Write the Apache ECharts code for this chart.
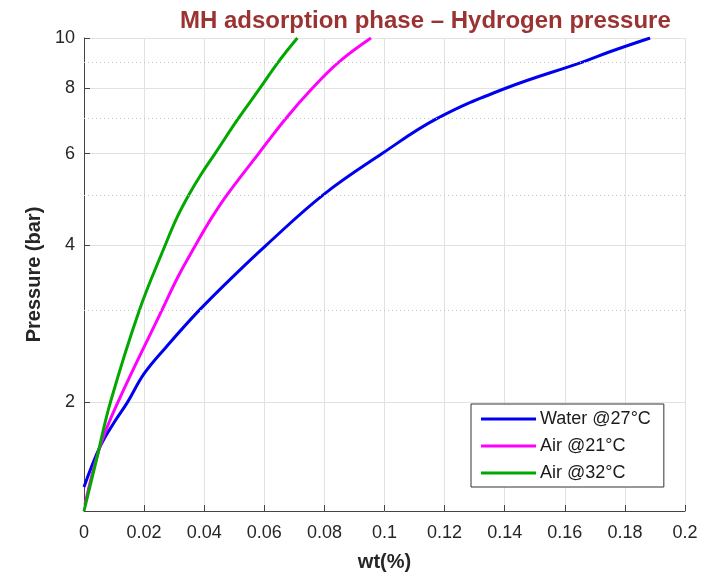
<!DOCTYPE html>
<html>
<head>
<meta charset="utf-8">
<script src="https://cdn.jsdelivr.net/npm/echarts@6/dist/echarts.min.js"></script>
<style>html,body{margin:0;padding:0;background:#fff;}#c{width:717px;height:579px;}</style>
</head>
<body>
<div id="c"></div>
<script>
// ---- data (wt% , pressure bar) ----
var waterWt  = [0, 0.0053, 0.0098, 0.0145, 0.0200, 0.0273, 0.0383, 0.0501, 0.0606, 0.0796, 0.0992, 0.1174, 0.1401, 0.1661, 0.1750, 0.1884];
var waterP   = [1.375, 1.641, 1.820, 2.0, 2.268, 2.55, 3.0, 3.507, 4.0, 5.0, 6.0, 7.0, 8.0, 9.0, 9.41, 10.0];
var air21Wt  = [0.0003, 0.0053, 0.0113, 0.0259, 0.0315, 0.0371, 0.0423, 0.0476, 0.0581, 0.0671, 0.0759, 0.0849, 0.0955];
var air21P   = [1.27, 1.641, 2.0, 3.0, 3.50, 4.0, 4.50, 5.0, 6.0, 7.0, 8.0, 9.0, 10.0];
var air32Wt  = [0, 0.0040, 0.0088, 0.0184, 0.0270, 0.0310, 0.0349, 0.0392, 0.0436, 0.0513, 0.0585, 0.0647, 0.0710];
var air32P   = [1.236, 1.538, 2.0, 3.0, 4.0, 4.53, 5.0, 5.50, 6.0, 7.0, 8.0, 9.0, 10.0];
var seriesNames = ['Water @27°C', 'Air @21°C', 'Air @32°C'];
var seriesColors = ['#0000F0', '#FF00FF', '#00A800'];
var yMajorTicks = [2, 4, 6, 8, 10];
var yMinorGrid = [3, 5, 7, 9];
var xTicks = [0, 0.02, 0.04, 0.06, 0.08, 0.1, 0.12, 0.14, 0.16, 0.18, 0.2];

function pairs(xs, ys) { return xs.map(function (x, i) { return [x, ys[i]]; }); }

var chart = echarts.init(document.getElementById('c'), null, {renderer: 'canvas'});
var FONT = 'Liberation Sans, Arial, sans-serif';
var lineSeries = [[waterWt, waterP], [air21Wt, air21P], [air32Wt, air32P]].map(function (d, i) {
  return {
    name: seriesNames[i], type: 'line', data: pairs(d[0], d[1]),
    showSymbol: false, smooth: 0.4, z: 3,
    lineStyle: {color: seriesColors[i], width: 3},
    itemStyle: {color: seriesColors[i]}
  };
});
lineSeries.push({
  type: 'line', data: [], z: 1, silent: true,
  markLine: {
    silent: true, symbol: 'none', label: {show: false},
    lineStyle: {color: '#c4c4c4', type: [1, 3], width: 1},
    data: yMinorGrid.map(function (v) { return {yAxis: v}; })
  }
});

chart.setOption({
  animation: false,
  backgroundColor: '#fff',
  title: {
    text: 'MH adsorption phase – Hydrogen pressure',
    left: 175, top: 4,
    textStyle: {color: '#9B3333', fontSize: 24, fontWeight: 'bold', fontFamily: FONT}
  },
  grid: {left: 84, right: 32, top: 38, bottom: 68, containLabel: false},
  legend: {
    orient: 'vertical', left: 471, top: 404,
    padding: [6, 13, 5, 10], itemGap: 9,
    itemWidth: 55, itemHeight: 3, icon: 'rect',
    backgroundColor: '#fff', borderColor: '#333', borderWidth: 1,
    textStyle: {fontSize: 18, color: '#1a1a1a', fontFamily: FONT, padding: [0, 0, 0, -1]},
    data: seriesNames
  },
  xAxis: {
    type: 'value', min: 0, max: 0.2, interval: 0.02,
    name: 'wt(%)', nameLocation: 'middle', nameGap: 41,
    nameTextStyle: {fontSize: 20, fontWeight: 'bold', color: '#262626', fontFamily: FONT},
    axisLine: {lineStyle: {color: '#444', width: 1}},
    axisTick: {inside: true, length: 6, lineStyle: {color: '#444'}},
    axisLabel: {fontSize: 18, color: '#262626', margin: 13, fontFamily: FONT,
      customValues: xTicks},
    splitLine: {show: true, lineStyle: {color: '#e2e2e2', width: 1}}
  },
  yAxis: {
    type: 'log', logBase: 10, min: 1.236, max: 10,
    name: 'Pressure (bar)', nameLocation: 'middle', nameGap: 40,
    nameTextStyle: {fontSize: 20, fontWeight: 'bold', color: '#262626', fontFamily: FONT},
    axisLine: {show: true, lineStyle: {color: '#444', width: 1}},
    axisTick: {show: true, inside: true, length: 6, lineStyle: {color: '#444'}, customValues: yMajorTicks},
    axisLabel: {fontSize: 18, color: '#262626', margin: 9, fontFamily: FONT, customValues: yMajorTicks},
    splitLine: {show: true, lineStyle: {color: '#e2e2e2', width: 1}},
    minorTick: {show: false}, minorSplitLine: {show: false}
  },
  series: lineSeries
});
</script>
</body>
</html>
